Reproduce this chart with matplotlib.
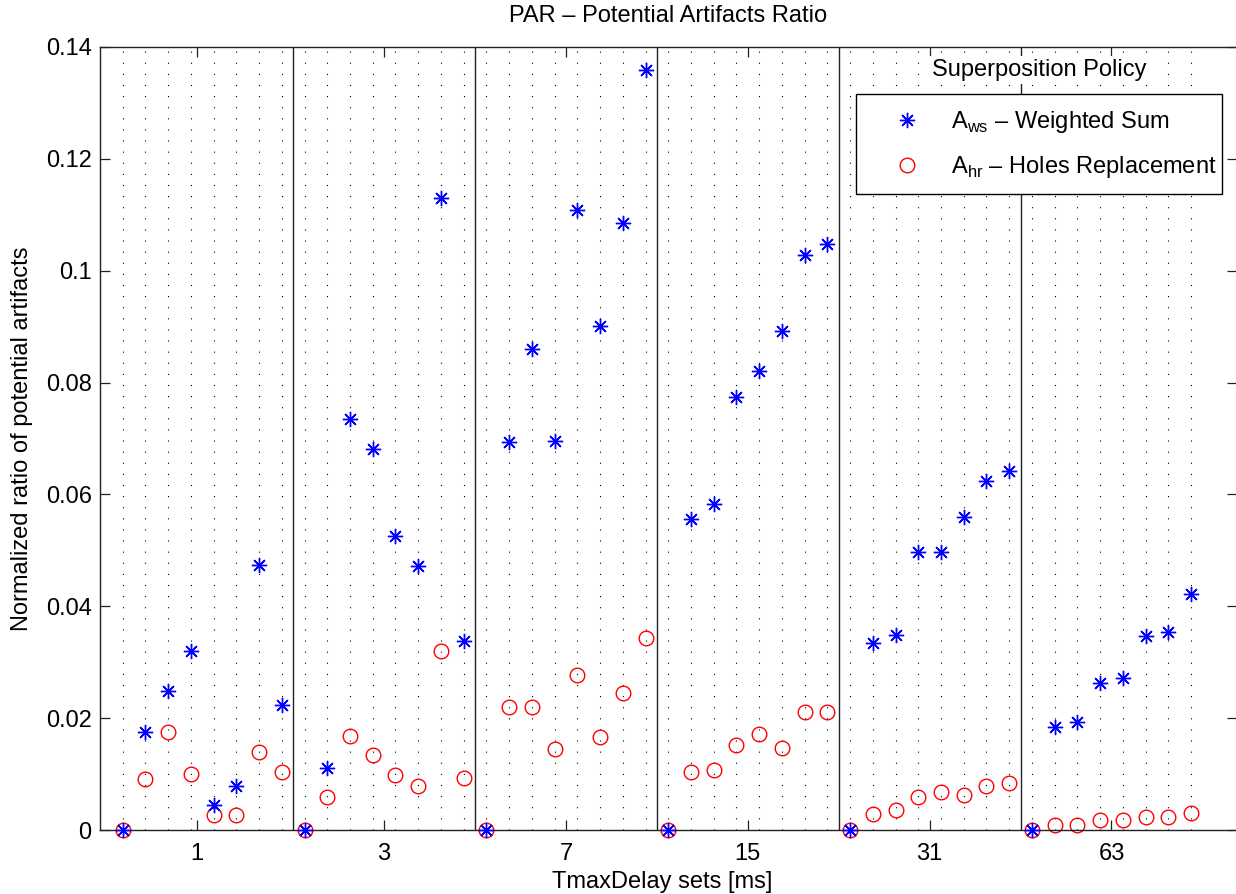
import matplotlib
matplotlib.use("Agg")
import matplotlib.pyplot as plt
import numpy as np

plt.rcParams['font.family'] = ['Liberation Sans', 'DejaVu Sans']
plt.rcParams['mathtext.fontset'] = 'custom'
plt.rcParams['mathtext.rm'] = 'Liberation Sans'

# ---------------- data ----------------
group_labels = ['1', '3', '7', '15', '31', '63']
group_tick_pos = [4.25, 12.5, 20.5, 28.5, 36.5, 44.5]
points_per_group = 8

weighted_sum = [
    0.0, 0.0175, 0.0248, 0.0320, 0.0046, 0.0079, 0.0474, 0.0224,
    0.0, 0.0111, 0.0735, 0.0682, 0.0526, 0.0472, 0.1129, 0.0338,
    0.0, 0.0694, 0.0860, 0.0696, 0.1109, 0.0901, 0.1085, 0.1358,
    0.0, 0.0557, 0.0583, 0.0775, 0.0821, 0.0892, 0.1028, 0.1047,
    0.0, 0.0334, 0.0349, 0.0497, 0.0497, 0.0560, 0.0624, 0.0642,
    0.0, 0.0185, 0.0193, 0.0264, 0.0272, 0.0347, 0.0354, 0.0422,
]
holes_replacement = [
    0.0, 0.0092, 0.0175, 0.0101, 0.0028, 0.0027, 0.0140, 0.0104,
    0.0, 0.0059, 0.0169, 0.0134, 0.0099, 0.0080, 0.0320, 0.0093,
    0.0, 0.0220, 0.0220, 0.0145, 0.0277, 0.0167, 0.0246, 0.0344,
    0.0, 0.0105, 0.0107, 0.0152, 0.0172, 0.0147, 0.0211, 0.0211,
    0.0, 0.0030, 0.0037, 0.0060, 0.0068, 0.0063, 0.0080, 0.0085,
    0.0, 0.0010, 0.0010, 0.0018, 0.0019, 0.0024, 0.0023, 0.0031,
]
y_ticks = [0, 0.02, 0.04, 0.06, 0.08, 0.10, 0.12, 0.14]

FS = 17

# ---------------- figure ----------------
W, H = 1236, 894
fig = plt.figure(figsize=(W / 100, H / 100), dpi=100)
left, right, top, bottom = 100, 1236.5, 46.7, 830.3
ax = fig.add_axes([left / W, 1 - bottom / H, (right - left) / W, (bottom - top) / H])

n = len(weighted_sum)
x = np.arange(1, n + 1)

# dotted per-point grid
for xi in x:
    ax.axvline(xi, color='k', lw=0.8, linestyle=(0, (1, 9)), zorder=0.5)
# group separators
for g in range(1, len(group_labels)):
    ax.axvline(g * points_per_group + 0.5, color='#222222', lw=1.0, zorder=1)

star = (8, 2, 0)
ax.plot(x, weighted_sum, linestyle='none', marker=star, markersize=11,
        markeredgecolor='#0000ff', markerfacecolor='none', markeredgewidth=1.0,
        clip_on=False, zorder=3, label=r'A$_{\mathrm{ws}}$ – Weighted Sum')
ax.plot(x, holes_replacement, linestyle='none', marker='o', markersize=10.5,
        markeredgecolor='#ff0000', markerfacecolor='none', markeredgewidth=1.0,
        clip_on=False, zorder=2, label=r'A$_{\mathrm{hr}}$ – Holes Replacement')

ax.set_xlim(0, 50)
ax.set_ylim(0, 0.14)
ax.set_xticks(group_tick_pos)
ax.set_xticklabels(group_labels)
ax.set_yticks(y_ticks)
ax.set_yticklabels(['%g' % v for v in y_ticks])
ax.tick_params(direction='in', length=7.5, width=0.9, top=True, right=True,
               labelsize=FS, color='#222222')
ax.tick_params(axis='x', pad=9)
ax.tick_params(axis='y', pad=6)
for s in ax.spines.values():
    s.set_color('#222222')
    s.set_linewidth(1.0)

ax.set_title('PAR – Potential Artifacts Ratio', fontsize=FS, pad=18)
fig.text(662 / W, 1 - 888 / H, 'TmaxDelay sets [ms]', ha='center', va='baseline', fontsize=FS)
fig.text(22 / W, 1 - 438.5 / H, 'Normalized ratio of potential artifacts', ha='center',
         va='center', rotation=90, fontsize=FS)

leg = ax.legend(loc='upper left',
                bbox_to_anchor=(855.7 / W, 1 - 191.7 / H, (1222 - 855.7) / W, (191.7 - 94.3) / H),
                bbox_transform=fig.transFigure, mode='expand', borderaxespad=0,
                fancybox=False, edgecolor='k', fontsize=FS, handlelength=3.1,
                handletextpad=0.32, borderpad=0.62, labelspacing=0.8, framealpha=1)
leg.get_frame().set_linewidth(1.0)
leg.set_zorder(5)

fig.text(1039 / W, 1 - 76 / H, 'Superposition Policy', ha='center', va='baseline', fontsize=FS,
         bbox=dict(facecolor='white', edgecolor='none', pad=2), zorder=6)

fig.savefig('out.png', dpi=100)
